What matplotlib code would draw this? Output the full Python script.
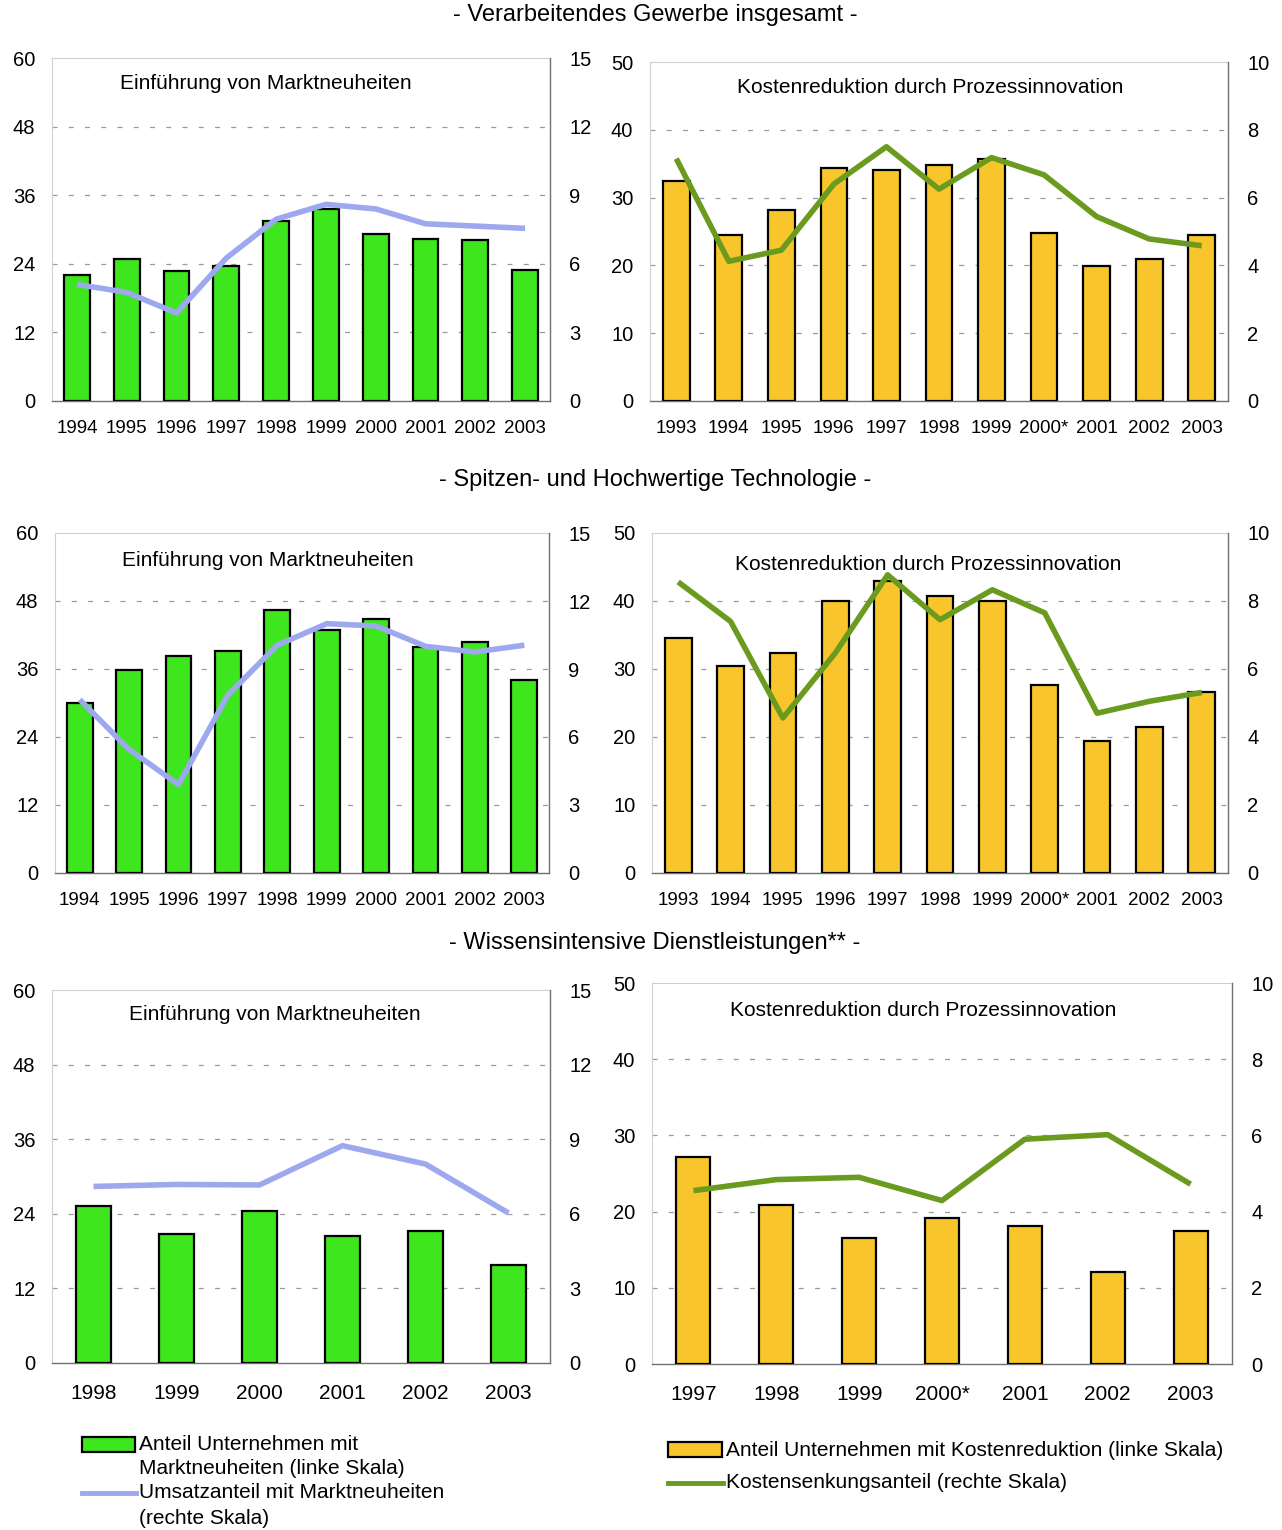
import matplotlib
matplotlib.use("Agg")
import matplotlib.pyplot as plt
from matplotlib.patches import Rectangle
from matplotlib.lines import Line2D

plt.rcParams['font.family'] = ['Liberation Sans', 'DejaVu Sans']

# --- data -------------------------------------------------------------
years_mn = ['1994', '1995', '1996', '1997', '1998', '1999', '2000', '2001', '2002', '2003']
years_kr = ['1993', '1994', '1995', '1996', '1997', '1998', '1999', '2000*', '2001', '2002', '2003']
years_mn_wd = ['1998', '1999', '2000', '2001', '2002', '2003']
years_kr_wd = ['1997', '1998', '1999', '2000*', '2001', '2002', '2003']

# Verarbeitendes Gewerbe insgesamt
vg_anteil_mn = [22.1, 24.8, 22.7, 23.7, 31.4, 33.5, 29.3, 28.4, 28.1, 23.0]
vg_umsatz_mn = [5.1, 4.75, 3.85, 6.25, 7.95, 8.6, 8.4, 7.75, 7.65, 7.55]
vg_anteil_kr = [32.4, 24.5, 28.2, 34.4, 34.1, 34.8, 35.7, 24.8, 19.9, 21.0, 24.5]
vg_senkung_kr = [7.15, 4.12, 4.45, 6.4, 7.5, 6.25, 7.18, 6.67, 5.44, 4.78, 4.58]

# Spitzen- und Hochwertige Technologie
ht_anteil_mn = [30.0, 35.9, 38.3, 39.2, 46.5, 42.9, 44.8, 39.8, 40.8, 34.0]
ht_umsatz_mn = [7.65, 5.45, 3.9, 7.85, 10.05, 11.0, 10.9, 10.0, 9.75, 10.05]
ht_anteil_kr = [34.5, 30.5, 32.4, 40.0, 42.9, 40.7, 40.0, 27.6, 19.4, 21.5, 26.6]
ht_senkung_kr = [8.56, 7.4, 4.56, 6.47, 8.77, 7.45, 8.33, 7.65, 4.7, 5.05, 5.31]

# Wissensintensive Dienstleistungen
wd_anteil_mn = [25.3, 20.8, 24.5, 20.5, 21.3, 15.7]
wd_umsatz_mn = [7.1, 7.18, 7.16, 8.74, 8.0, 6.03]
wd_anteil_kr = [27.2, 20.9, 16.5, 19.2, 18.1, 12.1, 17.5]
wd_senkung_kr = [4.55, 4.84, 4.9, 4.29, 5.9, 6.02, 4.72]

# --- styling ----------------------------------------------------------
GREEN_BAR = '#3ee61e'
YELLOW_BAR = '#f8c62c'
BLUE_LINE = '#9ea8ee'
OLIVE_LINE = '#6a9a1e'
GRID = '#9a9a9a'

W, H = 1282, 1530
fig = plt.figure(figsize=(W / 100, H / 100), dpi=100)
fig.patch.set_facecolor('white')


def px_axes(left, right, top, bottom):
    return fig.add_axes([left / W, 1 - bottom / H, (right - left) / W, (bottom - top) / H])


def panel(rect, cats, bars, line, bar_color, line_color, lmax, rmax, title,
          title_pos, bar_width, year_fs, year_pad):
    ax = px_axes(*rect)
    x = list(range(len(cats)))
    ax.bar(x, bars, width=bar_width, color=bar_color, edgecolor='black',
           linewidth=1.6, zorder=3)
    ax.set_xlim(-0.5, len(cats) - 0.5)
    ax.set_ylim(0, lmax)
    step = lmax / 5
    ax.set_yticks([step * i for i in range(6)])
    ax.set_yticklabels([f'{int(step * i)}' for i in range(6)], fontsize=14.5)
    ax.set_xticks(x)
    ax.set_xticklabels(cats, fontsize=year_fs)
    ax.tick_params(axis='both', length=0)
    ax.tick_params(axis='y', pad=12)
    ax.tick_params(axis='x', pad=year_pad)
    for yv in [step * i for i in range(1, 5)]:
        ax.axhline(yv, color=GRID, linewidth=0.9, linestyle=(0, (4, 9)), zorder=1)
    for side in ['left', 'top']:
        ax.spines[side].set_color('#d0d0d0')
        ax.spines[side].set_linewidth(0.8)
    ax.spines['bottom'].set_color('#707070')
    ax.spines['bottom'].set_linewidth(1.0)
    ax.spines['right'].set_visible(False)

    ax2 = ax.twinx()
    ax2.plot(x, line, color=line_color, linewidth=4, solid_joinstyle='round',
             solid_capstyle='butt', zorder=4)
    ax2.set_ylim(0, rmax)
    rstep = rmax / 5
    ax2.set_yticks([rstep * i for i in range(6)])
    ax2.set_yticklabels([f'{int(rstep * i)}' for i in range(6)], fontsize=14.5)
    ax2.tick_params(axis='y', length=0, pad=14)
    for side in ['left', 'top', 'bottom']:
        ax2.spines[side].set_visible(False)
    ax2.spines['right'].set_color('#707070')
    ax2.spines['right'].set_linewidth(1.0)

    ax.text(title_pos[0], title_pos[1], title, transform=ax.transAxes,
            ha='center', va='center', fontsize=15)
    return ax


t_mn = 'Einführung von Marktneuheiten'
t_kr = 'Kostenreduktion durch Prozessinnovation'

panel((52, 550, 58, 401), years_mn, vg_anteil_mn, vg_umsatz_mn, GREEN_BAR, BLUE_LINE,
      60, 15, t_mn, (0.43, 0.927), 0.52, 13.5, 14)
panel((650, 1228, 62, 401), years_kr, vg_anteil_kr, vg_senkung_kr, YELLOW_BAR, OLIVE_LINE,
      50, 10, t_kr, (0.484, 0.926), 0.51, 13.5, 14)
panel((55, 549, 533, 873), years_mn, ht_anteil_mn, ht_umsatz_mn, GREEN_BAR, BLUE_LINE,
      60, 15, t_mn, (0.431, 0.92), 0.52, 13.5, 14)
panel((652, 1228, 533, 873), years_kr, ht_anteil_kr, ht_senkung_kr, YELLOW_BAR, OLIVE_LINE,
      50, 10, t_kr, (0.479, 0.906), 0.51, 13.5, 14)
panel((52, 550, 990, 1363), years_mn_wd, wd_anteil_mn, wd_umsatz_mn, GREEN_BAR, BLUE_LINE,
      60, 15, t_mn, (0.448, 0.933), 0.41, 15, 15)
panel((652, 1232, 983, 1364), years_kr_wd, wd_anteil_kr, wd_senkung_kr, YELLOW_BAR, OLIVE_LINE,
      50, 10, t_kr, (0.467, 0.929), 0.41, 15, 15)

# section headings
for text, ypx in [('- Verarbeitendes Gewerbe insgesamt -', 15),
                  ('- Spitzen- und Hochwertige Technologie -', 480),
                  ('- Wissensintensive Dienstleistungen** -', 943)]:
    fig.text(655 / W, 1 - ypx / H, text, ha='center', va='center', fontsize=17)


# legends
def fx(v):
    return v / W


def fy(v):
    return 1 - v / H


fig.add_artist(Rectangle((fx(82), fy(1452)), fx(53), 15 / H, facecolor=GREEN_BAR,
                         edgecolor='black', linewidth=1.6, transform=fig.transFigure))
fig.add_artist(Line2D([fx(82), fx(136)], [fy(1493), fy(1493)],
                      color=BLUE_LINE, linewidth=3.5, transform=fig.transFigure))
for text, ypx in [('Anteil Unternehmen mit', 1444),
                  ('Marktneuheiten (linke Skala)', 1468),
                  ('Umsatzanteil mit Marktneuheiten', 1493),
                  ('(rechte Skala)', 1518)]:
    fig.text(fx(139), fy(ypx), text, ha='left', va='center', fontsize=15)

fig.add_artist(Rectangle((fx(668), fy(1457)), fx(54), 15 / H, facecolor=YELLOW_BAR,
                         edgecolor='black', linewidth=1.6, transform=fig.transFigure))
fig.text(fx(726), fy(1450), 'Anteil Unternehmen mit Kostenreduktion (linke Skala)',
         ha='left', va='center', fontsize=15)
fig.add_artist(Line2D([fx(668), fx(723)], [fy(1483), fy(1483)],
                      color=OLIVE_LINE, linewidth=3.5, transform=fig.transFigure))
fig.text(fx(726), fy(1483), 'Kostensenkungsanteil (rechte Skala)',
         ha='left', va='center', fontsize=15)

plt.savefig('out.png', dpi=100)
